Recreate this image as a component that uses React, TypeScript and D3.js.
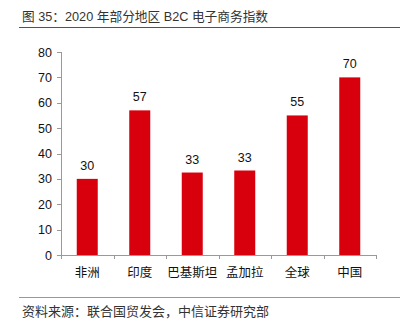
import React from "react";
import * as d3 from "d3";

const categories = ["非洲", "印度", "巴基斯坦", "孟加拉", "全球", "中国"];
const values = [30, 57, 32.5, 33.3, 55, 70];
const labels = ["30", "57", "33", "33", "55", "70"];
const yTicks = [0, 10, 20, 30, 40, 50, 60, 70, 80];

const W = 404, H = 330;
const M = { left: 61, right: 376, top: 52, bottom: 255 };
const FONT = "'Liberation Sans', 'Noto Sans CJK SC', Arial, sans-serif";

export default function App() {
  const x = d3.scaleBand<string>().domain(categories).range([M.left, M.right]).paddingInner(0).paddingOuter(0);
  const y = d3.scaleLinear().domain([0, 80]).range([M.bottom, M.top]);
  const bw = 21;
  const axisColor = "#999";
  const xTickPos = categories.map((c) => x(c)!).concat([M.right]);
  return (
    <svg width={W} height={H} style={{ position: "absolute", left: 0, top: 0, fontFamily: FONT }}>
      <rect width={W} height={H} fill="#fff" />
      <text x={22} y={21} fontSize={12.7} fill="#333">图 35：2020 年部分地区 B2C 电子商务指数</text>
      <line x1={19} x2={400} y1={27.5} y2={27.5} stroke="#b22a2a" strokeWidth={1} />
      {categories.map((c, i) => (
        <g key={c}>
          <rect x={x(c)! + x.bandwidth() / 2 - bw / 2} y={y(values[i])} width={bw} height={y(0) - y(values[i])} fill="#d9000d" />
          <text x={x(c)! + x.bandwidth() / 2} y={y(values[i]) - 9} textAnchor="middle" fontSize={12.5} fill="#111">{labels[i]}</text>
          <text x={x(c)! + x.bandwidth() / 2} y={277} textAnchor="middle" fontSize={12.5} fill="#111">{c}</text>
        </g>
      ))}
      <line x1={M.left + 0.5} x2={M.left + 0.5} y1={M.top} y2={M.bottom} stroke={axisColor} />
      {yTicks.map((t) => (
        <g key={t}>
          <line x1={M.left - 4} x2={M.left} y1={Math.round(y(t)) + 0.5} y2={Math.round(y(t)) + 0.5} stroke={axisColor} />
          <text x={M.left - 9} y={y(t) + 4.5} textAnchor="end" fontSize={12.5} fill="#111">{t}</text>
        </g>
      ))}
      <line x1={M.left} x2={M.right} y1={M.bottom + 0.5} y2={M.bottom + 0.5} stroke={axisColor} />
      {xTickPos.map((p, i) => (
        <line key={i} x1={Math.round(p) + 0.5} x2={Math.round(p) + 0.5} y1={M.bottom} y2={M.bottom + 4} stroke={axisColor} />
      ))}
      <line x1={19} x2={400} y1={297.5} y2={297.5} stroke="#e07a7a" strokeWidth={1} />
      <text x={22} y={316} fontSize={13} fill="#333">资料来源：联合国贸发会，中信证券研究部</text>
    </svg>
  );
}
